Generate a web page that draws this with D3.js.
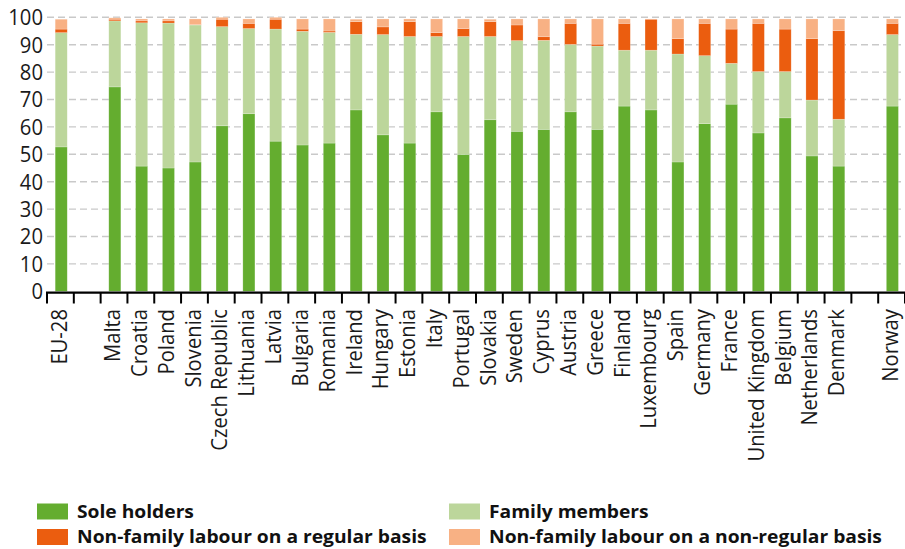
<!DOCTYPE html>
<html>
<head>
<meta charset="utf-8">
<script src="https://cdn.jsdelivr.net/npm/d3@7"></script>
<style>
  html, body { margin: 0; padding: 0; background: #fff; }
  svg { display: block; }
</style>
</head>
<body>
<div id="chart"></div>
<script>
// ---- Data ----
const categories = ["EU-28","Malta","Croatia","Poland","Slovenia","Czech Republic","Lithuania","Latvia","Bulgaria","Romania","Ireland","Hungary","Estonia","Italy","Portugal","Slovakia","Sweden","Cyprus","Austria","Greece","Finland","Luxembourg","Spain","Germany","France","United Kingdom","Belgium","Netherlands","Denmark","Norway"];
// categories followed by an empty slot in the axis
const gapAfter = ["EU-28", "Denmark"];

const soleHolders    = [52.7,74.6,45.7,45.0,47.2,60.4,64.8,54.8,53.4,54.1,66.2,57.1,54.1,65.5,50.0,62.6,58.4,59.1,65.5,59.1,67.6,66.2,47.2,61.2,68.3,57.8,63.3,49.4,45.7,67.6];
const familyMembers  = [41.7,24.1,52.3,52.9,50.0,36.2,31.1,40.9,41.5,40.4,27.6,36.6,38.9,27.5,43.0,30.4,33.1,32.5,24.6,30.4,20.4,21.8,39.4,24.8,14.9,22.4,16.9,20.4,17.1,26.1];
const regularLabour  = [1.3,0.6,0.7,0.8,0.1,2.7,1.9,3.6,0.8,0.5,4.6,2.8,5.4,1.4,2.9,5.4,5.7,1.3,7.7,0.7,9.8,11.3,5.6,11.8,12.5,17.6,15.5,22.4,32.3,4.1];
const nonRegularLabour = [3.6,0.5,0.7,0.7,2.1,0.7,1.6,0.7,3.7,4.4,0.9,2.9,1.0,5.0,3.5,0.9,2.2,6.5,1.6,9.2,1.6,0.1,7.2,1.6,3.7,1.6,3.7,7.2,4.3,1.6];

const seriesNames = ["Sole holders","Family members","Non-family labour on a regular basis","Non-family labour on a non-regular basis"];
const seriesKeys = ["sole","family","regular","nonregular"];
const yTicks = [0,10,20,30,40,50,60,70,80,90,100];

// ---- Styles ----
const colors = { sole: "#64ad2f", family: "#bcd69b", regular: "#eb5d0f", nonregular: "#f8b184" };

const W = 905, H = 549;
const svg = d3.select("#chart").append("svg").attr("width", W).attr("height", H);

// build slot domain with empty gap slots
const slots = [];
categories.forEach(c => { slots.push(c); if (gapAfter.includes(c)) slots.push("__gap_" + c); });

const x = d3.scaleBand().domain(slots).range([47, 905]).paddingInner(0).paddingOuter(0);
const y = d3.scaleLinear().domain([0, 100]).range([291.3, 17.3]);

const rows = categories.map((c, i) => ({
  cat: c, sole: soleHolders[i], family: familyMembers[i], regular: regularLabour[i], nonregular: nonRegularLabour[i]
}));
const stack = d3.stack().keys(seriesKeys)(rows);

// gridlines
svg.append("g").selectAll("line").data(yTicks.filter(t => t > 0)).join("line")
  .attr("x1", 47).attr("x2", W)
  .attr("y1", d => y(d)).attr("y2", d => y(d))
  .attr("stroke", "#c9c9c9").attr("stroke-width", 1.4).attr("stroke-dasharray", "7,4");

// bars
const barW = x.bandwidth() * 0.45;
svg.append("g").selectAll("g").data(stack).join("g")
  .attr("fill", d => colors[d.key])
  .selectAll("rect").data(d => d).join("rect")
  .attr("x", d => x(d.data.cat) + x.bandwidth() / 2 - barW / 2 + 0.8)
  .attr("width", barW)
  .attr("y", d => y(d[1]))
  .attr("height", d => y(d[0]) - y(d[1]))
  .attr("stroke", "rgba(255,255,255,0.35)").attr("stroke-width", 0.6);

// y labels
svg.append("g").selectAll("text").data(yTicks).join("text")
  .attr("transform", d => `translate(43,${y(d)}) scale(0.92,1)`)
  .attr("text-anchor", "end").attr("dy", "0.36em")
  .attr("font-family", "'Open Sans', sans-serif").attr("font-size", 22).attr("fill", "#1a1a1a")
  .text(d => d);

// x axis
const xAxis = svg.append("g");
xAxis.append("line").attr("x1", 46).attr("x2", W).attr("y1", 292.7).attr("y2", 292.7)
  .attr("stroke", "#000").attr("stroke-width", 2.2);
const bounds = slots.map(s => x(s)).concat([x.range()[1]]);
xAxis.selectAll("line.tick").data(bounds).join("line").attr("class", "tick")
  .attr("x1", d => d).attr("x2", d => d).attr("y1", 292).attr("y2", 303.5)
  .attr("stroke", "#000").attr("stroke-width", 2);
xAxis.selectAll("text").data(categories).join("text")
  .attr("transform", d => `translate(${x(d) + x.bandwidth() / 2},309) rotate(-90) scale(0.92,1)`)
  .attr("text-anchor", "end").attr("dy", "0.28em")
  .attr("font-family", "'Open Sans', sans-serif").attr("font-size", 22).attr("fill", "#1a1a1a")
  .text(d => d);

// legend
const legendPos = [[37, 503.5], [449, 503.5], [37, 529], [449, 529]];
const lg = svg.append("g").selectAll("g").data(seriesKeys).join("g")
  .attr("transform", (d, i) => `translate(${legendPos[i][0]},${legendPos[i][1]})`);
lg.append("rect").attr("width", 31).attr("height", 16).attr("fill", d => colors[d]);
lg.append("text").attr("transform", "translate(40,14.3) scale(1.04,1)")
  .attr("font-family", "'Open Sans', sans-serif").attr("font-weight", 700).attr("font-size", 18.5)
  .attr("fill", "#111")
  .text((d, i) => seriesNames[i]);
</script>
</body>
</html>
